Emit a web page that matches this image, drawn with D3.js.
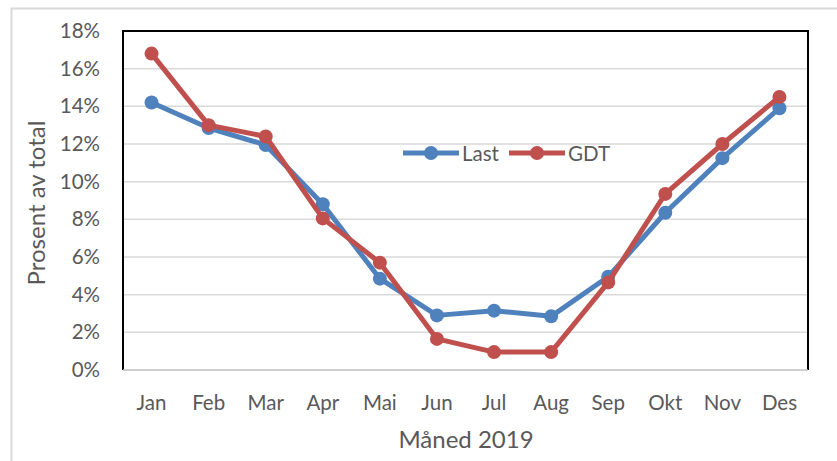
<!DOCTYPE html>
<html><head><meta charset="utf-8">
<script src="https://cdn.jsdelivr.net/npm/d3@7"></script>
<style>body{margin:0;background:#fff}svg{display:block}text{font-family:Lato,"Open Sans",sans-serif;fill:#595959}</style>
</head><body>
<svg id="c" width="837" height="461"></svg>
<script>
const months = ["Jan","Feb","Mar","Apr","Mai","Jun","Jul","Aug","Sep","Okt","Nov","Des"];
const lastValues = [14.2,12.85,11.95,8.8,4.85,2.9,3.15,2.85,4.95,8.35,11.25,13.9];
const gdtValues = [16.8,13.0,12.4,8.05,5.7,1.65,0.95,0.95,4.65,9.35,12.0,14.5];
const yTicks = [0,2,4,6,8,10,12,14,16,18];
const seriesNames = ["Last","GDT"];
const colors = ["#4F81BD","#C0504D"];

const svg = d3.select("#c");
const m = {l:123, t:31, r:808, b:370};
svg.append("rect").attr("x",11.5).attr("y",8.5).attr("width",900).attr("height",500)
  .attr("fill","none").attr("stroke","#D9D9D9").attr("stroke-width",2);

const x = d3.scaleBand().domain(months).range([m.l,m.r]);
const y = d3.scaleLinear().domain([0,18]).range([m.b,m.t]);

// gridlines
svg.append("g").selectAll("line").data(yTicks.filter(d=>d>0&&d<18)).join("line")
  .attr("x1",m.l).attr("x2",m.r).attr("y1",d=>y(d)).attr("y2",d=>y(d))
  .attr("stroke","#D9D9D9").attr("stroke-width",1.5);

// plot border
svg.append("path").attr("d",`M${m.l},${m.b}V${m.t}H${m.r}V${m.b}`)
  .attr("fill","none").attr("stroke","#000").attr("stroke-width",2);
svg.append("line").attr("x1",m.l).attr("x2",m.r).attr("y1",m.b).attr("y2",m.b)
  .attr("stroke","#BFBFBF").attr("stroke-width",1.5);

// y axis
const ya = svg.append("g").attr("transform",`translate(${m.l},0)`)
  .call(d3.axisLeft(y).tickValues(yTicks).tickFormat(d=>d+"%").tickSize(0).tickPadding(23));
ya.select(".domain").remove();
ya.selectAll("text").attr("font-size",20.5).style("font-family","Lato, sans-serif").attr("fill","#595959");

// x axis
const xa = svg.append("g").attr("transform",`translate(0,${m.b})`)
  .call(d3.axisBottom(x).tickSize(0).tickPadding(25));
xa.select(".domain").remove();
xa.selectAll("text").attr("font-size",20.5).style("font-family","Lato, sans-serif").attr("fill","#595959");

// titles
svg.append("text").attr("transform","translate(45,203) rotate(-90)").attr("text-anchor","middle")
  .attr("font-size",24).text("Prosent av total");
svg.append("text").attr("x",466).attr("y",448).attr("text-anchor","middle")
  .attr("font-size",24).text("Måned 2019");

// lines
const line = d3.line().x((d,i)=>x(months[i])+x.bandwidth()/2).y(d=>y(d));
[lastValues,gdtValues].forEach((vals,k)=>{
  const g = svg.append("g");
  g.append("path").datum(vals).attr("d",line).attr("fill","none")
    .attr("stroke",colors[k]).attr("stroke-width",5).attr("stroke-linejoin","round");
  g.selectAll("circle").data(vals).join("circle")
    .attr("cx",(d,i)=>x(months[i])+x.bandwidth()/2).attr("cy",d=>y(d)).attr("r",7)
    .attr("fill",colors[k]);
});

// legend
const legX = [403,509];
const leg = svg.append("g");
seriesNames.forEach((n,k)=>{
  const lx = legX[k], ly = 153;
  leg.append("line").attr("x1",lx).attr("x2",lx+56).attr("y1",ly).attr("y2",ly)
    .attr("stroke",colors[k]).attr("stroke-width",5);
  leg.append("circle").attr("cx",lx+28).attr("cy",ly).attr("r",7).attr("fill",colors[k]);
  leg.append("text").attr("x",lx+59).attr("y",ly+7.5).attr("font-size",20.5).text(n);
});
</script>
</body></html>
